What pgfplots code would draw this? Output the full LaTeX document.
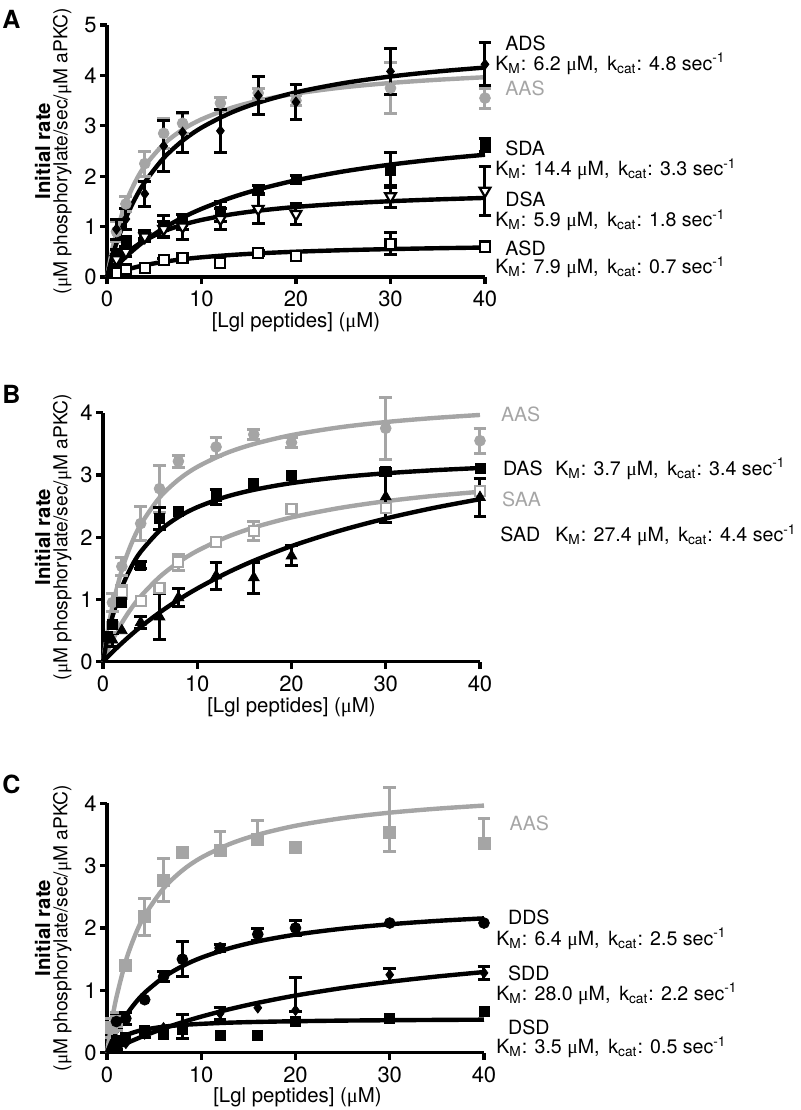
\documentclass[border=0pt]{standalone}
\usepackage{fontspec}
\setmainfont{TeX Gyre Heros}
\newfontfamily\mufont{Liberation Serif}
\usepackage{pgfplots}
\pgfplotsset{compat=1.18}
\definecolor{pg}{RGB}{165,165,165}
\newcommand{\um}{{\mufont μ}}
\newcommand{\tf}{\fontsize{11}{12}\selectfont}
\newcommand{\xf}{\fontsize{10.2}{12}\selectfont}
\newcommand{\af}{\fontsize{9.8}{12}\selectfont}
\newcommand{\km}[2]{K\textsubscript{M}: #1 \um M,\hspace{0.45em}k\textsubscript{cat}: #2 sec\textsuperscript{-1}}
\pgfplotsset{
 prism/.style={scale only axis, xmin=0, xmax=40, ymin=0,
   axis x line=bottom, axis y line=left,
   axis line style={line width=1.6pt,-},
   every tick/.style={black,line width=1.6pt},
   tick align=outside, major tick length=3.5pt,
   xtick={0,10,20,30,40}, clip=false,
   tick label style={font=\tf},
   yticklabel style={inner xsep=1.5pt},
   /pgf/number format/assume math mode=true},
 fit/.style={line width=2.2pt, smooth, no markers},
 pts/.style={only marks,
   error bars/y dir=both, error bars/y explicit,
   error bars/error mark=-,
   error bars/error bar style={line width=1.5pt, solid},
   error bars/error mark options={rotate=90, line width=1.5pt, mark size=3.2pt, solid}},
}
\begin{document}
\begin{tikzpicture}
\useasboundingbox (0,0) rectangle (400pt,-555pt);
% ================= Panel A =================
\begin{axis}[prism, at={(53.5pt,-138.5pt)}, anchor=south west,
  width=189pt, height=126pt, ymax=5, ytick={0,1,2,3,4,5}]
\addplot[fit, pg] coordinates {(0,0) (0.5,0.494) (1,0.888) (2,1.475) (3,1.891) (4,2.203) (6,2.636) (8,2.924) (10,3.129) (13,3.346) (16,3.497) (20,3.640) (25,3.763) (30,3.850) (35,3.914) (40,3.964)};
\addplot[fit, black] coordinates {(0,0) (0.5,0.358) (1,0.667) (2,1.171) (3,1.565) (4,1.882) (6,2.361) (8,2.704) (10,2.963) (13,3.250) (16,3.459) (20,3.664) (25,3.846) (30,3.978) (35,4.078) (40,4.156)};
\addplot[fit, black] coordinates {(0,0) (0.5,0.111) (1,0.214) (2,0.402) (3,0.569) (4,0.717) (6,0.971) (8,1.179) (10,1.352) (13,1.566) (16,1.737) (20,1.919) (25,2.094) (30,2.230) (35,2.338) (40,2.426)};
\addplot[fit, black] coordinates {(0,0) (0.5,0.141) (1,0.261) (2,0.456) (3,0.607) (4,0.727) (6,0.908) (8,1.036) (10,1.132) (13,1.238) (16,1.315) (20,1.390) (25,1.456) (30,1.504) (35,1.540) (40,1.569)};
\addplot[fit, black] coordinates {(0,0) (0.5,0.042) (1,0.079) (2,0.141) (3,0.193) (4,0.235) (6,0.302) (8,0.352) (10,0.391) (13,0.435) (16,0.469) (20,0.502) (25,0.532) (30,0.554) (35,0.571) (40,0.585)};
% AAS
\addplot[pts, pg, mark=*, mark size=2.7pt] table[y error=e] {
x y e
1 0.9 0.2
2 1.45 0.15
4 2.25 0.25
6 2.85 0.3
8 3.05 0.2
12 3.45 0.12
16 3.65 0.1
20 3.5 0.1
30 3.75 0.5
40 3.55 0.2
};
% ADS
\addplot[pts, black, mark=diamond*, mark size=2.6pt] table[y error=e] {
x y e
1 0.95 0.2
2 1.15 0.2
4 1.65 0.25
6 2.6 0.5
8 2.87 0.4
12 2.9 0.42
16 3.6 0.37
20 3.47 0.35
30 4.08 0.46
40 4.22 0.43
};
% SDA
\addplot[pts, black, mark=square*, mark size=2.5pt] table[y error=e] {
x y e
1 0.45 0.1
2 0.7 0.1
4 0.85 0.08
6 1.0 0.22
8 1.1 0.15
12 1.3 0.2
16 1.73 0.08
20 1.93 0.08
30 2.12 0.35
40 2.62 0.13
};
% DSA
\addplot[pts, black, mark=triangle*, mark size=3.1pt, mark options={rotate=180, fill=white, line width=1.1pt}] table[y error=e] {
x y e
1 0.35 0.1
2 0.5 0.1
4 0.8 0.1
6 0.95 0.15
8 1.0 0.25
12 1.15 0.2
16 1.35 0.28
20 1.25 0.2
30 1.6 0.22
40 1.71 0.48
};
% ASD
\addplot[pts, black, mark=square*, mark size=2.5pt, mark options={fill=white, line width=1.1pt}] table[y error=e] {
x y e
1 0.08 0.03
2 0.15 0.05
6 0.33 0.04
16 0.48 0.05
20 0.42 0.08
30 0.66 0.22
40 0.6 0.1
};
\addplot[only marks, black, mark=square*, mark size=2.5pt, mark options={fill=white, line width=1.1pt}] table {
x y
4 0.18
8 0.38
12 0.27
};
\end{axis}
% ================= Panel B =================
\begin{axis}[prism, at={(51.5pt,-330.85pt)}, anchor=south west,
  width=188.5pt, height=124.5pt, ymax=4, ytick={0,1,2,3,4}]
\addplot[fit, pg] coordinates {(0,0) (0.5,0.494) (1,0.888) (2,1.475) (3,1.891) (4,2.203) (6,2.636) (8,2.924) (10,3.129) (13,3.346) (16,3.497) (20,3.640) (25,3.763) (30,3.850) (35,3.914) (40,3.964)};
\addplot[fit, pg] coordinates {(0,0) (0.5,0.182) (1,0.344) (2,0.624) (3,0.856) (4,1.051) (6,1.361) (8,1.596) (10,1.781) (13,1.994) (16,2.156) (20,2.318) (25,2.467) (30,2.578) (35,2.663) (40,2.730)};
\addplot[fit, black] coordinates {(0,0) (0.5,0.405) (1,0.723) (2,1.193) (3,1.522) (4,1.766) (6,2.103) (8,2.325) (10,2.482) (13,2.647) (16,2.761) (20,2.869) (25,2.962) (30,3.027) (35,3.075) (40,3.112)};
\addplot[fit, black] coordinates {(0,0) (0.5,0.079) (1,0.155) (2,0.299) (3,0.434) (4,0.561) (6,0.790) (8,0.994) (10,1.176) (13,1.416) (16,1.622) (20,1.857) (25,2.099) (30,2.300) (35,2.468) (40,2.611)};
% AAS
\addplot[pts, pg, mark=*, mark size=2.7pt] table[y error=e] {
x y e
1 0.95 0.15
2 1.53 0.15
4 2.22 0.27
6 2.78 0.38
8 3.22 0.1
12 3.45 0.15
16 3.65 0.08
20 3.52 0.08
30 3.75 0.5
40 3.55 0.2
};
% SAA
\addplot[pts, pg, mark=square*, mark size=2.5pt, mark options={fill=white, line width=1.1pt}] table[y error=e] {
x y e
2 1.12 0.1
8 1.6 0.13
16 2.1 0.15
};
\addplot[only marks, pg, mark=square*, mark size=2.5pt, mark options={fill=white, line width=1.1pt}] table {
x y
1 0.55
4 0.98
6 1.18
12 1.92
20 2.45
30 2.47
40 2.74
};
% DAS
\addplot[pts, black, mark=square*, mark size=2.5pt] table[y error=e] {
x y e
4 1.55 0.06
6 2.3 0.17
12 2.65 0.12
30 3.05 0.06
};
\addplot[only marks, black, mark=square*, mark size=2.5pt] table {
x y
0.5 0.4
1 0.6
2 0.95
8 2.42
16 2.87
20 3.0
40 3.1
};
% SAD
\addplot[pts, black, mark=triangle*, mark size=3.1pt] table[y error=e] {
x y e
1 0.35 0.1
4 0.63 0.1
6 0.72 0.37
8 1.03 0.15
12 1.38 0.22
16 1.35 0.25
20 1.7 0.16
30 2.65 0.42
40 2.64 0.31
};
\addplot[only marks, black, mark=triangle*, mark size=3.1pt] table {
x y
2 0.5
};
\end{axis}
% ================= Panel C =================
\begin{axis}[prism, at={(53.5pt,-526.35pt)}, anchor=south west,
  width=188.5pt, height=124.7pt, ymax=4, ytick={0,1,2,3,4}]
\addplot[fit, pg] coordinates {(0,0) (0.5,0.494) (1,0.888) (2,1.475) (3,1.891) (4,2.203) (6,2.636) (8,2.924) (10,3.129) (13,3.346) (16,3.497) (20,3.640) (25,3.763) (30,3.850) (35,3.914) (40,3.964)};
\addplot[fit, black] coordinates {(0,0) (0.5,0.181) (1,0.338) (2,0.595) (3,0.798) (4,0.962) (6,1.210) (8,1.389) (10,1.524) (13,1.675) (16,1.786) (20,1.894) (25,1.990) (30,2.060) (35,2.114) (40,2.155)};
\addplot[fit, black] coordinates {(0,0) (0.5,0.039) (1,0.076) (2,0.147) (3,0.213) (4,0.275) (6,0.388) (8,0.489) (10,0.579) (13,0.698) (16,0.800) (20,0.917) (25,1.038) (30,1.138) (35,1.222) (40,1.294)};
\addplot[fit, black] coordinates {(0,0) (0.5,0.111) (1,0.185) (2,0.278) (3,0.334) (4,0.371) (6,0.417) (8,0.445) (10,0.463) (13,0.482) (16,0.494) (20,0.505) (25,0.515) (30,0.521) (35,0.526) (40,0.530)};
% AAS
\addplot[pts, pg, mark=square*, mark size=3pt] table[y error plus=ep, y error minus=em] {
x y ep em
0.5 0.4 0.15 0.15
1 0.5 0.15 0.15
4 2.18 0.3 0.3
6 2.77 0.35 0.35
12 3.25 0.3 0.0
16 3.42 0.3 0.0
30 3.53 0.72 0.31
40 3.35 0.4 0.0
};
\addplot[only marks, pg, mark=square*, mark size=3pt] table {
x y
2 1.4
8 3.22
20 3.3
};
% DDS
\addplot[pts, black, mark=*, mark size=2.7pt] table[y error=e] {
x y e
1 0.5 0.1
2 0.55 0.1
6 1.22 0.08
8 1.5 0.28
12 1.68 0.06
16 1.9 0.1
20 2.0 0.12
};
\addplot[only marks, black, mark=*, mark size=2.7pt] table {
x y
4 0.85
30 2.08
40 2.08
};
% SDD
\addplot[pts, black, mark=diamond*, mark size=2.6pt] table[y error plus=ep, y error minus=em] {
x y ep em
1 0.1 0.05 0.05
4 0.3 0.05 0.05
8 0.42 0.2 0.2
12 0.63 0.09 0.09
20 0.68 0.52 0.02
30 1.25 0.1 0.1
40 1.28 0.1 0.1
};
\addplot[only marks, black, mark=diamond*, mark size=2.6pt] table {
x y
2 0.15
6 0.4
16 0.72
};
% DSD
\addplot[only marks, black, mark=square*, mark size=2.5pt] table {
x y
1 0.2
2 0.25
4 0.35
6 0.3
8 0.38
12 0.28
16 0.27
20 0.5
30 0.55
40 0.66
};
\end{axis}
% ================= labels =================
\node[anchor=base west, font=\fontsize{12.5}{12}\selectfont\bfseries, inner sep=0pt] at (1pt,-14pt) {A};
\node[anchor=base west, font=\fontsize{12.5}{12}\selectfont\bfseries, inner sep=0pt] at (1pt,-201.5pt) {B};
\node[anchor=base west, font=\fontsize{12.5}{12}\selectfont\bfseries, inner sep=0pt] at (1pt,-396.5pt) {C};
\foreach \yc in {-75.5pt,-268.5pt,-464pt}{
 \node[rotate=90, align=center, font=\fontsize{9.6}{8.6}\selectfont] at (26.6pt,\yc)
   {{\fontsize{10.2}{8.6}\selectfont\bfseries Initial rate}\\(\um M phosphorylate/sec/\um M aPKC)};
}
\node[font=\xf] at (148pt,-161pt) {[Lgl peptides] (\um M)};
\node[font=\xf] at (145.75pt,-353.5pt) {[Lgl peptides] (\um M)};
\node[font=\xf] at (148.75pt,-548.5pt) {[Lgl peptides] (\um M)};
% panel A annotations
\begin{scope}[every node/.style={anchor=base west, font=\af, inner sep=0pt}]
\node at (252.5pt,-25pt) {ADS};
\node at (247.5pt,-35pt) {\km{6.2}{4.8}};
\node[text=pg] at (252.5pt,-47.5pt) {AAS};
\node at (252.5pt,-77.5pt) {SDA};
\node at (247.5pt,-87.85pt) {\km{14.4}{3.3}};
\node at (252.5pt,-103.35pt) {DSA};
\node at (247.5pt,-113.35pt) {\km{5.9}{1.8}};
\node at (252.5pt,-127.5pt) {ASD};
\node at (247.5pt,-136.65pt) {\km{7.9}{0.7}};
% panel B
\node[text=pg] at (250.35pt,-210.85pt) {AAS};
\node at (251.35pt,-237.5pt) {DAS};
\node at (277.5pt,-237.5pt) {\km{3.7}{3.4}};
\node[text=pg] at (250.85pt,-253.35pt) {SAA};
\node at (250pt,-270.85pt) {SAD};
\node at (277.5pt,-270.85pt) {\km{27.4}{4.4}};
% panel C
\node[text=pg] at (254.65pt,-415pt) {AAS};
\node at (253.85pt,-462pt) {DDS};
\node at (248pt,-472.5pt) {\km{6.4}{2.5}};
\node at (253.85pt,-490pt) {SDD};
\node at (248pt,-500pt) {\km{28.0}{2.2}};
\node at (253.85pt,-517pt) {DSD};
\node at (248pt,-526.65pt) {\km{3.5}{0.5}};
\end{scope}
\end{tikzpicture}
\end{document}
